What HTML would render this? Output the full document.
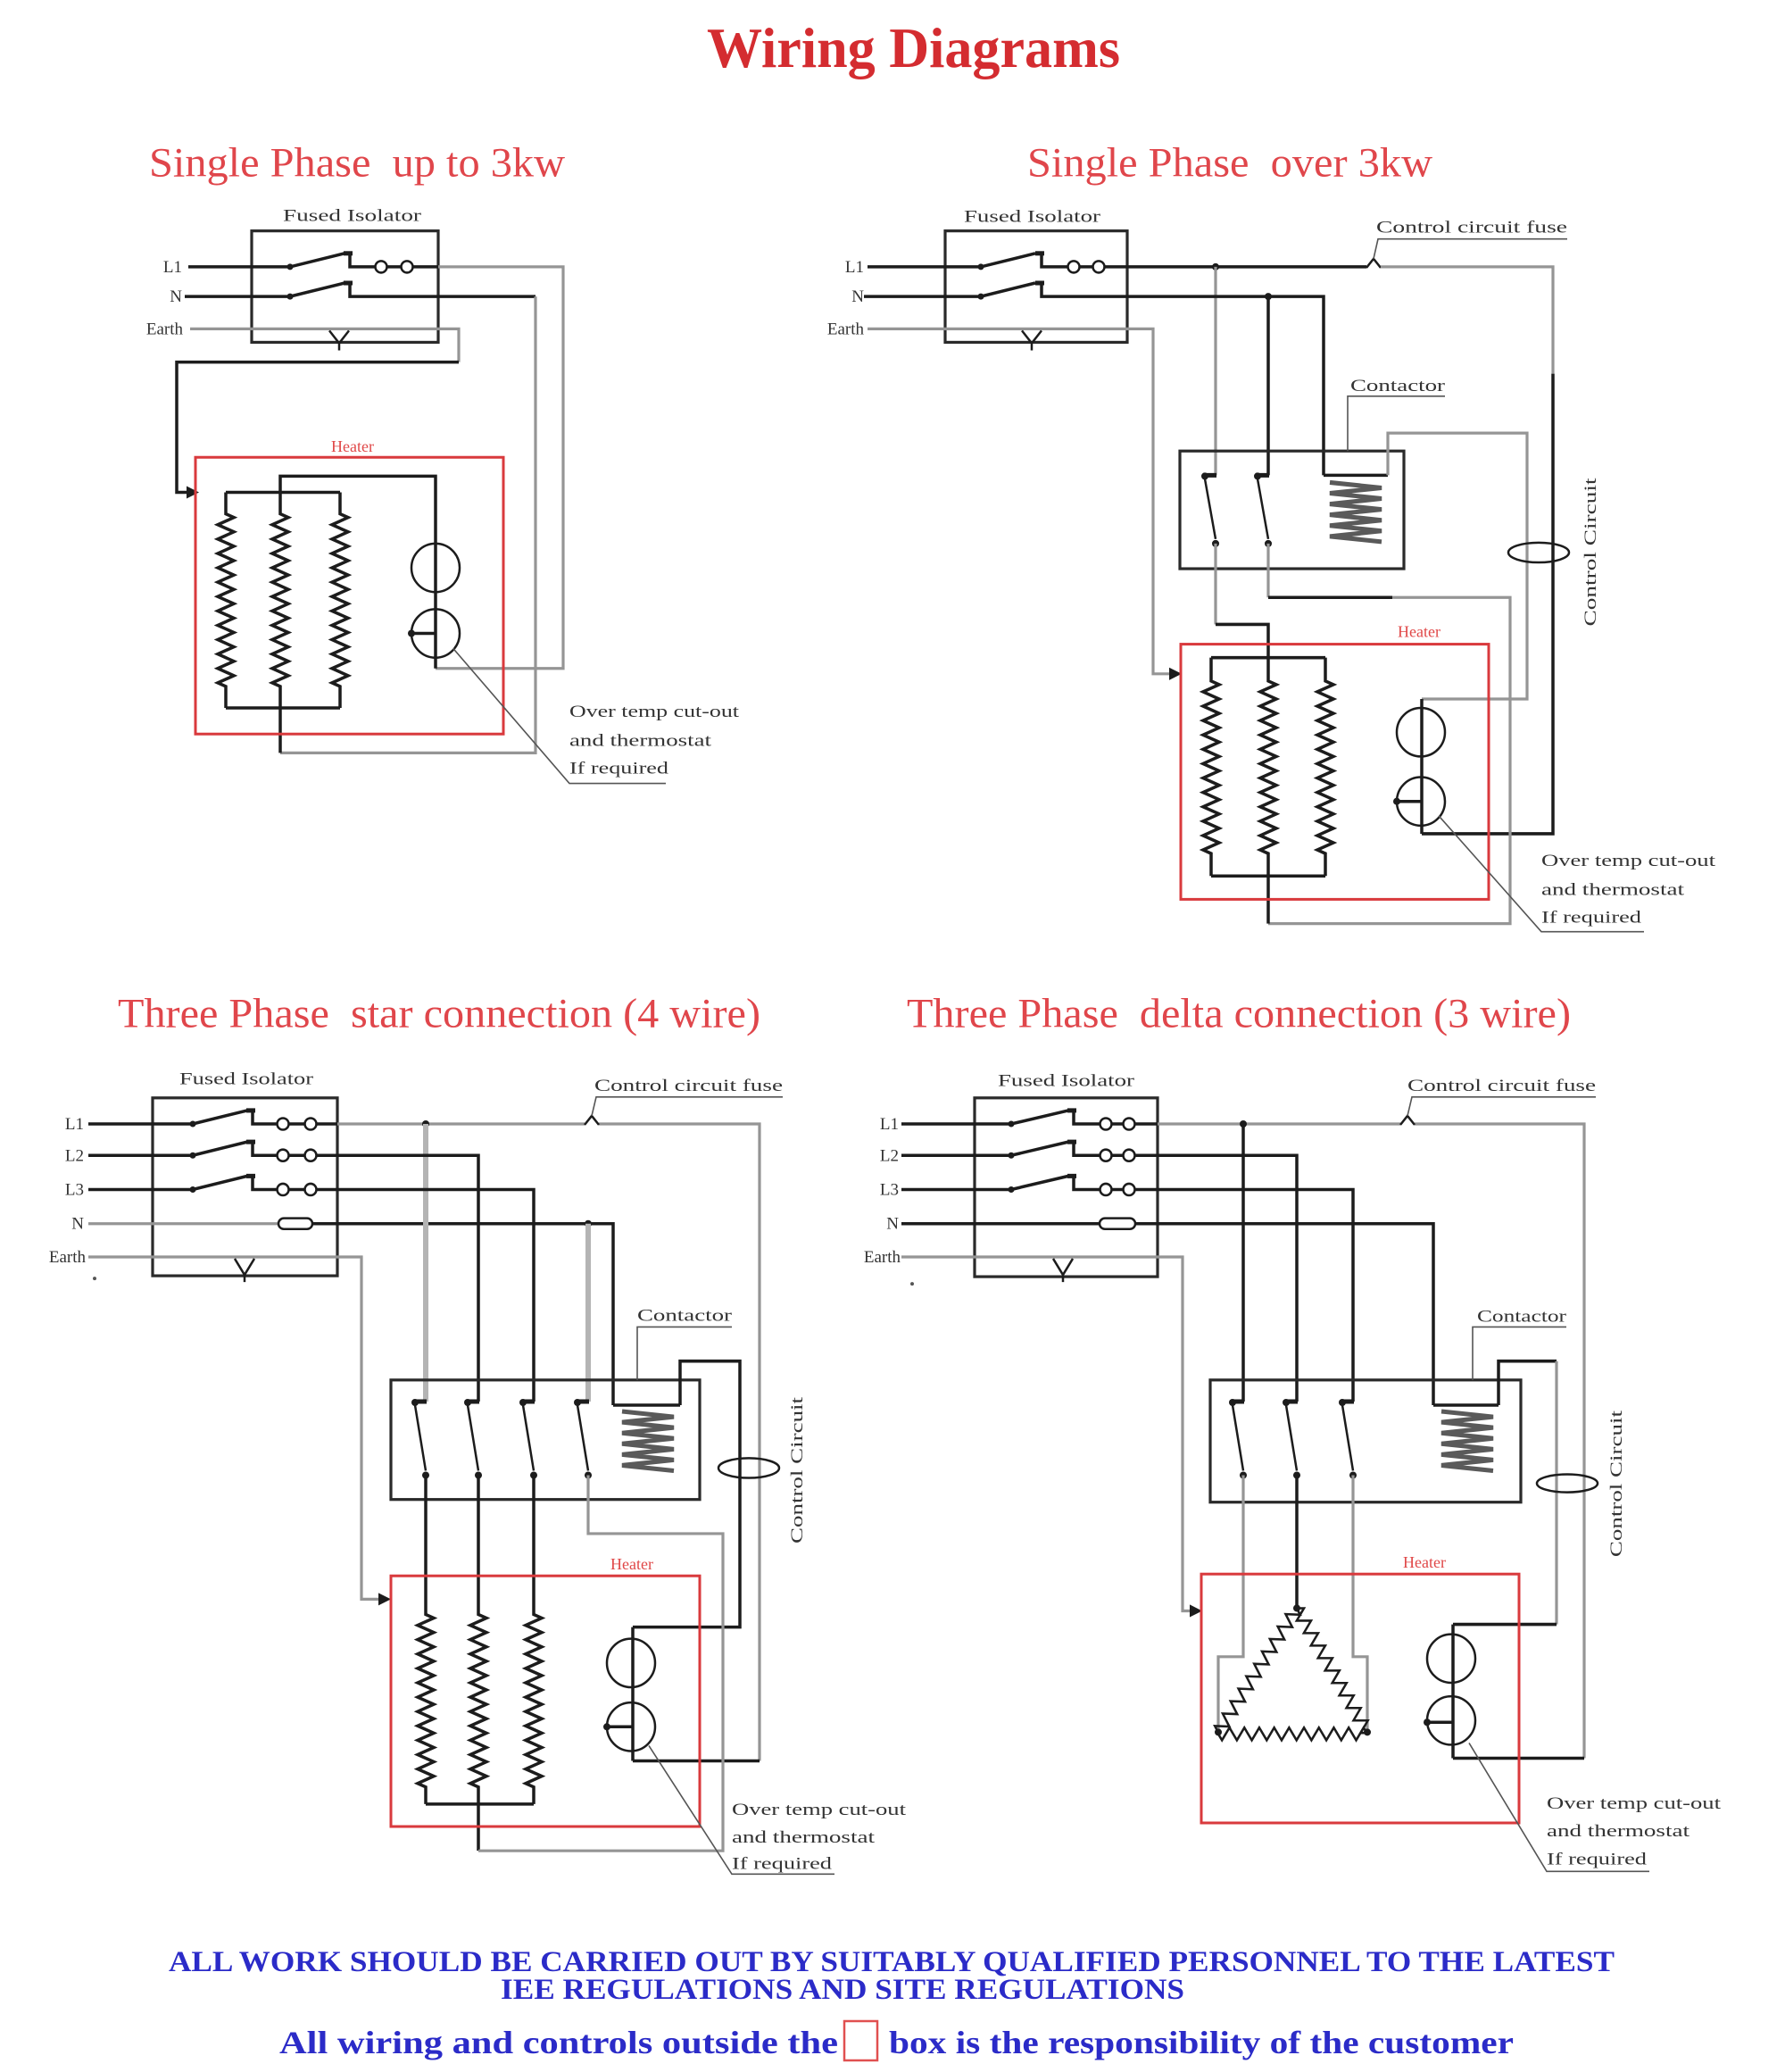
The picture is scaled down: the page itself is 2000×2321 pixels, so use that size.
<!DOCTYPE html>
<html>
<head>
<meta charset="utf-8">
<title>Wiring Diagrams</title>
<style>
html,body{margin:0;padding:0;background:#fff;}
svg{display:block;}
.k{stroke:#1c1c1c;stroke-width:3.5;fill:none;stroke-linejoin:miter;}
.k2{stroke:#1c1c1c;stroke-width:2.5;fill:none;}
.kt{stroke:#1c1c1c;stroke-width:5;fill:none;}
.g{stroke:#959595;stroke-width:3.2;fill:none;}
.gg{stroke:#b4b4b4;stroke-width:6;fill:none;}
.r{stroke:#d93a3d;stroke-width:3;fill:none;}
.bx{stroke:#2a2a2a;stroke-width:3.2;fill:none;}
.ln{stroke:#555;stroke-width:1.6;fill:none;}
.dot{fill:#1c1c1c;}
.coil{stroke:#5a5a5a;stroke-width:5;fill:none;}
.tt{font-family:"Liberation Serif",serif;font-size:46px;fill:#e0464b;}
.s{font-family:"Liberation Serif",serif;font-size:19px;fill:#333;}
.h{font-family:"Liberation Serif",serif;font-size:18px;fill:#e04848;}
.bt{font-family:"Liberation Serif",serif;font-weight:bold;fill:#2b2bc8;}
</style>
</head>
<body>
<svg width="2000" height="2321" viewBox="0 0 2000 2321" xmlns="http://www.w3.org/2000/svg">
<rect x="0" y="0" width="2000" height="2321" fill="#fff"/>

<text x="792" y="75" font-family="Liberation Serif, serif" font-weight="bold" font-size="64" fill="#d42c30" textLength="463" lengthAdjust="spacingAndGlyphs">Wiring Diagrams</text>

<g transform="scale(1,1.0064)">

<!-- ================= DIAGRAM 1 ================= -->
<text class="tt" x="167" y="196" textLength="466" lengthAdjust="spacingAndGlyphs">Single Phase&#160; up to 3kw</text>
<text class="s" x="317" y="246" textLength="155" lengthAdjust="spacingAndGlyphs">Fused Isolator</text>
<text class="s" x="204" y="303" text-anchor="end">L1</text>
<text class="s" x="204" y="336" text-anchor="end">N</text>
<text class="s" x="205" y="372" text-anchor="end">Earth</text>
<rect class="bx" x="282" y="257" width="209" height="124"/>
<!-- L1 -->
<path class="k" d="M211,297H325L386,282M392,282V297H420M434,297H449M463,297H491"/>
<path class="kt" d="M385,282H395"/>
<circle class="dot" cx="325" cy="297" r="3.5"/>
<circle class="k2" cx="427" cy="297" r="6.5"/>
<circle class="k2" cx="456" cy="297" r="6.5"/>
<path class="g" d="M491,297H631V744H488"/>
<!-- N -->
<path class="k" d="M207,330H325L386,315M392,315V330H600"/>
<path class="kt" d="M385,315H395"/>
<circle class="dot" cx="325" cy="330" r="3.5"/>
<path class="g" d="M600,330V838H314"/>
<path class="k" d="M314,838V788"/>
<!-- Earth -->
<path class="g" d="M213,366H514V403"/>
<path class="k" d="M514,403H198V548H212"/>
<polygon points="209,541 223,548 209,555" fill="#1c1c1c"/>
<path class="k2" d="M369,368L380,382L391,368M380,382V390"/>
<!-- Heater -->
<rect class="r" x="219" y="509" width="345" height="308"/>
<text class="h" x="395" y="503" text-anchor="middle">Heater</text>
<path class="k" d="M253,548V572 l9,4 l-18,8 l18,8 l-18,8 l18,8 l-18,8 l18,8 l-18,8 l18,8 l-18,8 l18,8 l-18,8 l18,8 l-18,8 l18,8 l-18,8 l18,8 l-18,8 l18,8 l-18,8 l18,8 l-18,8 l18,8 l-18,8 l9,4 V788"/>
<path class="k" d="M314,548V572 l9,4 l-18,8 l18,8 l-18,8 l18,8 l-18,8 l18,8 l-18,8 l18,8 l-18,8 l18,8 l-18,8 l18,8 l-18,8 l18,8 l-18,8 l18,8 l-18,8 l18,8 l-18,8 l18,8 l-18,8 l18,8 l-18,8 l9,4 V788"/>
<path class="k" d="M381,548V572 l9,4 l-18,8 l18,8 l-18,8 l18,8 l-18,8 l18,8 l-18,8 l18,8 l-18,8 l18,8 l-18,8 l18,8 l-18,8 l18,8 l-18,8 l18,8 l-18,8 l18,8 l-18,8 l18,8 l-18,8 l18,8 l-18,8 l9,4 V788"/>
<path class="k" d="M253,548H381M253,788H381"/>
<path class="k" d="M314,548V530H488V744"/>
<circle class="k2" cx="488" cy="632" r="27"/>
<circle class="k2" cx="488" cy="705" r="27"/>
<path class="k" d="M461,705H488"/>
<circle class="dot" cx="461" cy="705" r="4"/>
<path class="ln" d="M508,722L638,872H746"/>
<text class="s" x="638" y="798" textLength="190" lengthAdjust="spacingAndGlyphs">Over temp cut-out</text>
<text class="s" x="638" y="830" textLength="159" lengthAdjust="spacingAndGlyphs">and thermostat</text>
<text class="s" x="638" y="861" textLength="111" lengthAdjust="spacingAndGlyphs">If required</text>

<!-- ================= DIAGRAM 2 ================= -->
<text class="tt" x="1151" y="196" textLength="454" lengthAdjust="spacingAndGlyphs">Single Phase&#160; over 3kw</text>
<text class="s" x="1080" y="247" textLength="153" lengthAdjust="spacingAndGlyphs">Fused Isolator</text>
<text class="s" x="968" y="303" text-anchor="end">L1</text>
<text class="s" x="968" y="336" text-anchor="end">N</text>
<text class="s" x="968" y="372" text-anchor="end">Earth</text>
<rect class="bx" x="1059" y="257" width="204" height="124"/>
<!-- L1 -->
<path class="k" d="M972,297H1099L1160,282M1167,282V297H1196M1210,297H1224M1238,297H1531"/>
<path class="kt" d="M1160,282H1170"/>
<circle class="dot" cx="1099" cy="297" r="3.5"/>
<circle class="k2" cx="1203" cy="297" r="6.5"/>
<circle class="k2" cx="1231" cy="297" r="6.5"/>
<path class="k2" d="M1531,298L1539,288L1547,298"/>
<path class="ln" d="M1539,288L1544,266H1756"/>
<text class="s" x="1542" y="259" textLength="214" lengthAdjust="spacingAndGlyphs">Control circuit fuse</text>
<path class="g" d="M1547,297H1740V416"/>
<path class="k" d="M1740,416V928H1593"/>
<circle class="dot" cx="1362" cy="297" r="4"/>
<path class="g" d="M1362,297V529"/>
<!-- N -->
<path class="k" d="M968,330H1099L1160,315M1167,315V330H1483V529"/>
<path class="kt" d="M1160,315H1170"/>
<circle class="dot" cx="1099" cy="330" r="3.5"/>
<circle class="dot" cx="1421" cy="330" r="4"/>
<path class="k" d="M1421,330V529"/>
<!-- Earth -->
<path class="g" d="M972,366H1292V750H1313"/>
<polygon points="1310,743 1324,750 1310,757" fill="#1c1c1c"/>
<path class="k2" d="M1145,368L1156,382L1167,368M1156,382V390"/>
<!-- Contactor -->
<rect class="bx" x="1322" y="502" width="251" height="131"/>
<path class="kt" d="M1348,529H1363"/><circle class="dot" cx="1350" cy="530" r="4"/>
<path class="k2" d="M1350,533L1362,600"/><circle class="dot" cx="1362" cy="605" r="4"/>
<path class="kt" d="M1407,529H1422"/><circle class="dot" cx="1409" cy="530" r="4"/>
<path class="k2" d="M1409,533L1421,600"/><circle class="dot" cx="1421" cy="605" r="4"/>
<path class="k" d="M1483,529H1555"/>
<polyline class="coil" points="1490,537 1548,543 1490,549 1548,555 1490,561 1548,567 1490,573 1548,579 1490,585 1548,591 1490,597 1548,603"/>
<path class="g" d="M1555,529V482H1711V778H1593"/>
<text class="s" x="1513" y="435" textLength="106" lengthAdjust="spacingAndGlyphs">Contactor</text>
<path class="ln" d="M1619,441H1510V502"/>
<ellipse class="k2" cx="1724" cy="615" rx="34" ry="11"/>
<text class="s" transform="translate(1788,697) rotate(-90)" textLength="165" lengthAdjust="spacingAndGlyphs">Control Circuit</text>
<!-- below contactor -->
<path class="g" d="M1362,605V695"/>
<path class="k" d="M1362,695H1421V732"/>
<path class="g" d="M1421,605V665"/>
<path class="k" d="M1421,665H1560"/>
<path class="g" d="M1560,665H1692V1028H1421"/>
<path class="k" d="M1421,1028V975"/>
<!-- Heater -->
<rect class="r" x="1323" y="717" width="345" height="284"/>
<text class="h" x="1590" y="709" text-anchor="middle">Heater</text>
<path class="k" d="M1357,732V758 l9,4 l-18,8 l18,8 l-18,8 l18,8 l-18,8 l18,8 l-18,8 l18,8 l-18,8 l18,8 l-18,8 l18,8 l-18,8 l18,8 l-18,8 l18,8 l-18,8 l18,8 l-18,8 l18,8 l-18,8 l18,8 l-18,8 l9,4 V975"/>
<path class="k" d="M1421,732V758 l9,4 l-18,8 l18,8 l-18,8 l18,8 l-18,8 l18,8 l-18,8 l18,8 l-18,8 l18,8 l-18,8 l18,8 l-18,8 l18,8 l-18,8 l18,8 l-18,8 l18,8 l-18,8 l18,8 l-18,8 l18,8 l-18,8 l9,4 V975"/>
<path class="k" d="M1485,732V758 l9,4 l-18,8 l18,8 l-18,8 l18,8 l-18,8 l18,8 l-18,8 l18,8 l-18,8 l18,8 l-18,8 l18,8 l-18,8 l18,8 l-18,8 l18,8 l-18,8 l18,8 l-18,8 l18,8 l-18,8 l18,8 l-18,8 l9,4 V975"/>
<path class="k" d="M1357,732H1485M1357,975H1485"/>
<path class="k" d="M1593,778V928"/>
<circle class="k2" cx="1592" cy="815" r="27"/>
<circle class="k2" cx="1592" cy="892" r="27"/>
<path class="k" d="M1565,892H1593"/>
<circle class="dot" cx="1565" cy="892" r="4"/>
<path class="ln" d="M1612,908L1727,1037H1842"/>
<text class="s" x="1727" y="964" textLength="195" lengthAdjust="spacingAndGlyphs">Over temp cut-out</text>
<text class="s" x="1727" y="996" textLength="160" lengthAdjust="spacingAndGlyphs">and thermostat</text>
<text class="s" x="1727" y="1027" textLength="112" lengthAdjust="spacingAndGlyphs">If required</text>

<!-- ================= DIAGRAM 3 (star) ================= -->
<text class="tt" x="132" y="1143" textLength="720" lengthAdjust="spacingAndGlyphs">Three Phase&#160; star connection (4 wire)</text>
<text class="s" x="201" y="1207" textLength="150" lengthAdjust="spacingAndGlyphs">Fused Isolator</text>
<text class="s" x="94" y="1257" text-anchor="end">L1</text>
<text class="s" x="94" y="1292" text-anchor="end">L2</text>
<text class="s" x="94" y="1330" text-anchor="end">L3</text>
<text class="s" x="94" y="1368" text-anchor="end">N</text>
<text class="s" x="96" y="1405" text-anchor="end">Earth</text>
<circle cx="106" cy="1423" r="2" fill="#555"/>
<rect class="bx" x="171" y="1222" width="207" height="198"/>
<!-- L1 -->
<path class="k" d="M99,1251H216L277,1236M283,1236V1251H310M324,1251H341M355,1251H378"/>
<path class="kt" d="M276,1236H286"/>
<circle class="dot" cx="216" cy="1251" r="3.5"/>
<circle class="k2" cx="317" cy="1251" r="6.5"/><circle class="k2" cx="348" cy="1251" r="6.5"/>
<!-- L2 -->
<path class="k" d="M99,1286H216L277,1271M283,1271V1286H310M324,1286H341M355,1286H378"/>
<path class="kt" d="M276,1271H286"/>
<circle class="dot" cx="216" cy="1286" r="3.5"/>
<circle class="k2" cx="317" cy="1286" r="6.5"/><circle class="k2" cx="348" cy="1286" r="6.5"/>
<!-- L3 -->
<path class="k" d="M99,1324H216L277,1309M283,1309V1324H310M324,1324H341M355,1324H378"/>
<path class="kt" d="M276,1309H286"/>
<circle class="dot" cx="216" cy="1324" r="3.5"/>
<circle class="k2" cx="317" cy="1324" r="6.5"/><circle class="k2" cx="348" cy="1324" r="6.5"/>
<!-- N -->
<path class="g" d="M99,1362H312"/>
<rect class="k2" x="312" y="1356" width="38" height="12" rx="6"/>
<path class="k" d="M350,1362H687V1564"/>
<circle class="dot" cx="659" cy="1362" r="4"/>
<path class="gg" d="M659,1362V1560"/>
<!-- Earth -->
<path class="g" d="M99,1399H405V1780H427"/>
<polygon points="424,1773 438,1780 424,1787" fill="#1c1c1c"/>
<path class="k2" d="M263,1401L274,1419L285,1401M274,1419V1427"/>
<!-- after box -->
<path class="g" d="M378,1251H655M671,1251H851V1960"/>
<path class="k2" d="M655,1252L663,1242L671,1252"/>
<path class="ln" d="M663,1242L668,1221H877"/>
<text class="s" x="666" y="1214" textLength="211" lengthAdjust="spacingAndGlyphs">Control circuit fuse</text>
<circle class="dot" cx="477" cy="1251" r="4"/>
<path class="gg" d="M477,1251V1560"/>
<path class="k" d="M378,1286H536V1560"/>
<path class="k" d="M378,1324H598V1560"/>
<path class="k" d="M851,1960H709"/>
<!-- Contactor -->
<rect class="bx" x="438" y="1536" width="346" height="133"/>
<path class="kt" d="M463,1560H478"/><circle class="dot" cx="465" cy="1561" r="4"/>
<path class="k2" d="M465,1564L477,1637"/><circle class="dot" cx="477" cy="1642" r="4"/>
<path class="kt" d="M522,1560H537"/><circle class="dot" cx="524" cy="1561" r="4"/>
<path class="k2" d="M524,1564L536,1637"/><circle class="dot" cx="536" cy="1642" r="4"/>
<path class="kt" d="M584,1560H599"/><circle class="dot" cx="586" cy="1561" r="4"/>
<path class="k2" d="M586,1564L598,1637"/><circle class="dot" cx="598" cy="1642" r="4"/>
<path class="kt" d="M645,1560H660"/><circle class="dot" cx="647" cy="1561" r="4"/>
<path class="k2" d="M647,1564L659,1637"/><circle class="dot" cx="659" cy="1642" r="4"/>
<path class="k" d="M687,1564H762"/>
<polyline class="coil" points="697,1571 755,1577 697,1583 755,1589 697,1595 755,1601 697,1607 755,1613 697,1619 755,1625 697,1631 755,1637"/>
<path class="k" d="M762,1564V1515H829V1811H709"/>
<text class="s" x="714" y="1470" textLength="106" lengthAdjust="spacingAndGlyphs">Contactor</text>
<path class="ln" d="M820,1477H714V1536"/>
<ellipse class="k2" cx="839" cy="1634" rx="34" ry="11"/>
<text class="s" transform="translate(899,1718) rotate(-90)" textLength="163" lengthAdjust="spacingAndGlyphs">Control Circuit</text>
<!-- below contactor -->
<path class="k" d="M477,1642V1797 l9,4 l-18,8 l18,8 l-18,8 l18,8 l-18,8 l18,8 l-18,8 l18,8 l-18,8 l18,8 l-18,8 l18,8 l-18,8 l18,8 l-18,8 l18,8 l-18,8 l18,8 l-18,8 l18,8 l-18,8 l18,8 l-18,8 l9,4 V2008"/>
<path class="k" d="M536,1642V1797 l9,4 l-18,8 l18,8 l-18,8 l18,8 l-18,8 l18,8 l-18,8 l18,8 l-18,8 l18,8 l-18,8 l18,8 l-18,8 l18,8 l-18,8 l18,8 l-18,8 l18,8 l-18,8 l18,8 l-18,8 l18,8 l-18,8 l9,4 V2060"/>
<path class="k" d="M598,1642V1797 l9,4 l-18,8 l18,8 l-18,8 l18,8 l-18,8 l18,8 l-18,8 l18,8 l-18,8 l18,8 l-18,8 l18,8 l-18,8 l18,8 l-18,8 l18,8 l-18,8 l18,8 l-18,8 l18,8 l-18,8 l18,8 l-18,8 l9,4 V2008"/>
<path class="k" d="M477,2008H598"/>
<path class="g" d="M536,2060H810V1707H659V1642"/>
<!-- Heater -->
<rect class="r" x="438" y="1754" width="346" height="279"/>
<text class="h" x="708" y="1747" text-anchor="middle">Heater</text>
<path class="k" d="M709,1811V1960"/>
<circle class="k2" cx="707" cy="1851" r="27"/>
<circle class="k2" cx="707" cy="1922" r="27"/>
<path class="k" d="M680,1922H709"/>
<circle class="dot" cx="680" cy="1922" r="4"/>
<path class="ln" d="M727,1943L820,2086H935"/>
<text class="s" x="820" y="2020" textLength="195" lengthAdjust="spacingAndGlyphs">Over temp cut-out</text>
<text class="s" x="820" y="2051" textLength="160" lengthAdjust="spacingAndGlyphs">and thermostat</text>
<text class="s" x="820" y="2080" textLength="112" lengthAdjust="spacingAndGlyphs">If required</text>

<!-- ================= DIAGRAM 4 (delta) ================= -->
<text class="tt" x="1016" y="1143" textLength="744" lengthAdjust="spacingAndGlyphs">Three Phase&#160; delta connection (3 wire)</text>
<text class="s" x="1118" y="1209" textLength="153" lengthAdjust="spacingAndGlyphs">Fused Isolator</text>
<text class="s" x="1007" y="1257" text-anchor="end">L1</text>
<text class="s" x="1007" y="1292" text-anchor="end">L2</text>
<text class="s" x="1007" y="1330" text-anchor="end">L3</text>
<text class="s" x="1007" y="1368" text-anchor="end">N</text>
<text class="s" x="1009" y="1405" text-anchor="end">Earth</text>
<circle cx="1022" cy="1429" r="2" fill="#555"/>
<rect class="bx" x="1092" y="1222" width="205" height="199"/>
<!-- L1 -->
<path class="k" d="M1010,1251H1133L1197,1236M1203,1236V1251H1232M1246,1251H1258M1272,1251H1297"/>
<path class="kt" d="M1196,1236H1206"/>
<circle class="dot" cx="1133" cy="1251" r="3.5"/>
<circle class="k2" cx="1239" cy="1251" r="6.5"/><circle class="k2" cx="1265" cy="1251" r="6.5"/>
<!-- L2 -->
<path class="k" d="M1010,1286H1133L1197,1271M1203,1271V1286H1232M1246,1286H1258M1272,1286H1297"/>
<path class="kt" d="M1196,1271H1206"/>
<circle class="dot" cx="1133" cy="1286" r="3.5"/>
<circle class="k2" cx="1239" cy="1286" r="6.5"/><circle class="k2" cx="1265" cy="1286" r="6.5"/>
<!-- L3 -->
<path class="k" d="M1010,1324H1133L1197,1309M1203,1309V1324H1232M1246,1324H1258M1272,1324H1297"/>
<path class="kt" d="M1196,1309H1206"/>
<circle class="dot" cx="1133" cy="1324" r="3.5"/>
<circle class="k2" cx="1239" cy="1324" r="6.5"/><circle class="k2" cx="1265" cy="1324" r="6.5"/>
<!-- N -->
<path class="k" d="M1010,1362H1232"/>
<rect class="k2" x="1232" y="1356" width="40" height="12" rx="6"/>
<path class="k" d="M1272,1362H1606V1564"/>
<!-- Earth -->
<path class="g" d="M1010,1399H1325V1793H1336"/>
<polygon points="1333,1786 1347,1793 1333,1800" fill="#1c1c1c"/>
<path class="k2" d="M1180,1401L1191,1419L1202,1401M1191,1419V1427"/>
<!-- after box -->
<path class="g" d="M1297,1251H1569M1585,1251H1775V1957"/>
<path class="k2" d="M1569,1252L1577,1242L1585,1252"/>
<path class="ln" d="M1577,1242L1582,1221H1788"/>
<text class="s" x="1577" y="1214" textLength="211" lengthAdjust="spacingAndGlyphs">Control circuit fuse</text>
<circle class="dot" cx="1393" cy="1251" r="4"/>
<path class="k" d="M1393,1251V1560"/>
<path class="k" d="M1297,1286H1453V1560"/>
<path class="k" d="M1297,1324H1516V1560"/>
<path class="k" d="M1775,1957H1628"/>
<!-- Contactor -->
<rect class="bx" x="1356" y="1536" width="348" height="136"/>
<path class="kt" d="M1379,1560H1394"/><circle class="dot" cx="1381" cy="1561" r="4"/>
<path class="k2" d="M1381,1564L1393,1637"/><circle class="dot" cx="1393" cy="1642" r="4"/>
<path class="kt" d="M1439,1560H1454"/><circle class="dot" cx="1441" cy="1561" r="4"/>
<path class="k2" d="M1441,1564L1453,1637"/><circle class="dot" cx="1453" cy="1642" r="4"/>
<path class="kt" d="M1502,1560H1517"/><circle class="dot" cx="1504" cy="1561" r="4"/>
<path class="k2" d="M1504,1564L1516,1637"/><circle class="dot" cx="1516" cy="1642" r="4"/>
<path class="k" d="M1606,1564H1679"/>
<polyline class="coil" points="1615,1571 1673,1577 1615,1583 1673,1589 1615,1595 1673,1601 1615,1607 1673,1613 1615,1619 1673,1625 1615,1631 1673,1637"/>
<path class="k" d="M1679,1564V1515H1744"/>
<path class="g" d="M1744,1515V1808"/>
<path class="k" d="M1744,1808H1628"/>
<text class="s" x="1655" y="1471" textLength="100" lengthAdjust="spacingAndGlyphs">Contactor</text>
<path class="ln" d="M1755,1477H1650V1536"/>
<ellipse class="k2" cx="1756" cy="1651" rx="34" ry="10"/>
<text class="s" transform="translate(1817,1733) rotate(-90)" textLength="163" lengthAdjust="spacingAndGlyphs">Control Circuit</text>
<!-- below contactor / delta -->
<path class="g" d="M1393,1642V1844H1365V1928"/>
<path class="k" d="M1453,1642V1790"/>
<path class="g" d="M1516,1642V1844H1532V1928"/>
<path class="k2" transform="translate(1453,1790) rotate(122.5) scale(1.025,1)" d="M0,0 l4,-7 l8,14 l8,-14 l8,14 l8,-14 l8,14 l8,-14 l8,14 l8,-14 l8,14 l8,-14 l8,14 l8,-14 l8,14 l8,-14 l8,14 l8,-14 l8,14 l8,-14 l8,14 l4,-7"/>
<path class="k2" transform="translate(1453,1790) rotate(60.2)" d="M0,0 l4,-7 l8,14 l8,-14 l8,14 l8,-14 l8,14 l8,-14 l8,14 l8,-14 l8,14 l8,-14 l8,14 l8,-14 l8,14 l8,-14 l8,14 l8,-14 l8,14 l8,-14 l8,14 l4,-7"/>
<path class="k2" transform="translate(1365,1930) scale(1.044,1)" d="M0,0 l4,7 l8,-14 l8,14 l8,-14 l8,14 l8,-14 l8,14 l8,-14 l8,14 l8,-14 l8,14 l8,-14 l8,14 l8,-14 l8,14 l8,-14 l8,14 l8,-14 l8,14 l8,-14 l4,7"/>
<circle class="dot" cx="1453" cy="1790" r="4"/>
<circle class="dot" cx="1365" cy="1928" r="4"/>
<circle class="dot" cx="1532" cy="1928" r="4"/>
<!-- Heater -->
<rect class="r" x="1346" y="1752" width="356" height="277"/>
<text class="h" x="1596" y="1745" text-anchor="middle">Heater</text>
<path class="k" d="M1628,1808V1957"/>
<circle class="k2" cx="1626" cy="1846" r="27"/>
<circle class="k2" cx="1626" cy="1915" r="27"/>
<path class="k" d="M1599,1917H1628"/>
<circle class="dot" cx="1599" cy="1917" r="4"/>
<path class="ln" d="M1646,1940L1733,2083H1848"/>
<text class="s" x="1733" y="2013" textLength="195" lengthAdjust="spacingAndGlyphs">Over temp cut-out</text>
<text class="s" x="1733" y="2044" textLength="160" lengthAdjust="spacingAndGlyphs">and thermostat</text>
<text class="s" x="1733" y="2075" textLength="112" lengthAdjust="spacingAndGlyphs">If required</text>

</g>

<!-- ================= FOOTER ================= -->
<text class="bt" x="189" y="2208" font-size="33" textLength="1620" lengthAdjust="spacingAndGlyphs">ALL WORK SHOULD BE CARRIED OUT BY SUITABLY QUALIFIED PERSONNEL TO THE LATEST</text>
<text class="bt" x="561" y="2239" font-size="33" textLength="766" lengthAdjust="spacingAndGlyphs">IEE REGULATIONS AND SITE REGULATIONS</text>
<text class="bt" x="313" y="2300" font-size="36" textLength="626" lengthAdjust="spacingAndGlyphs">All wiring and controls outside the</text>
<rect x="946" y="2264" width="37" height="44" fill="none" stroke="#e05050" stroke-width="2.5"/>
<text class="bt" x="996" y="2300" font-size="36" textLength="700" lengthAdjust="spacingAndGlyphs">box is the responsibility of the customer</text>
</svg>
</body>
</html>
